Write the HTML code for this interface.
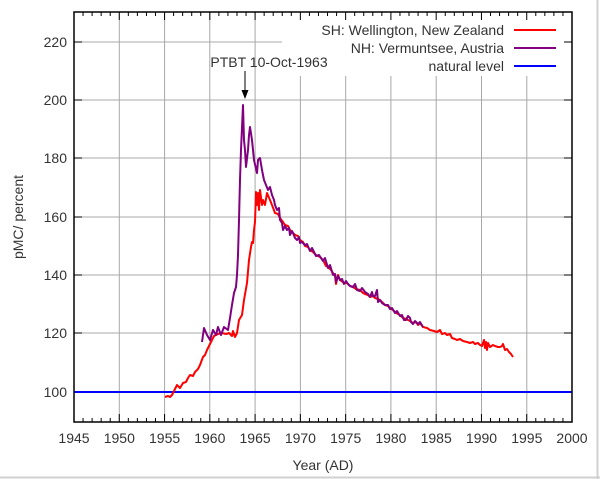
<!DOCTYPE html>
<html><head><meta charset="utf-8"><style>
html,body{margin:0;padding:0;background:#fff;}
svg{display:block;font-family:"Liberation Sans",sans-serif;}
</style></head><body>
<svg width="600" height="479" viewBox="0 0 600 479" xmlns="http://www.w3.org/2000/svg">
<rect x="0" y="0" width="600" height="479" fill="#fff"/>
<line x1="597.5" y1="0" x2="597.5" y2="479" stroke="#d0d0d0" stroke-width="2"/>
<line x1="0" y1="477.5" x2="600" y2="477.5" stroke="#d0d0d0" stroke-width="2"/>
<g stroke="#a8a8a8" stroke-width="1">
<line x1="74" y1="42" x2="282" y2="42"/>
<line x1="74" y1="100" x2="572" y2="100"/>
<line x1="74" y1="158" x2="572" y2="158"/>
<line x1="74" y1="217" x2="572" y2="217"/>
<line x1="74" y1="275" x2="572" y2="275"/>
<line x1="74" y1="333" x2="572" y2="333"/>
<line x1="119.3" y1="12" x2="119.3" y2="422"/>
<line x1="164.6" y1="12" x2="164.6" y2="422"/>
<line x1="209.8" y1="12" x2="209.8" y2="422"/>
<line x1="255.1" y1="12" x2="255.1" y2="422"/>
<line x1="300.4" y1="76" x2="300.4" y2="422"/>
<line x1="345.7" y1="76" x2="345.7" y2="422"/>
<line x1="390.9" y1="76" x2="390.9" y2="422"/>
<line x1="436.2" y1="76" x2="436.2" y2="422"/>
<line x1="481.5" y1="76" x2="481.5" y2="422"/>
<line x1="526.8" y1="76" x2="526.8" y2="422"/>
</g>
<path stroke="#000" stroke-width="1" fill="none" d="
M74 422v-8M74 12v8 M83.05 422v-4M83.05 12v4 M92.11 422v-4M92.11 12v4 M101.16 422v-4M101.16 12v4 M110.22 422v-4M110.22 12v4
M119.27 422v-8M119.27 12v8 M128.33 422v-4M128.33 12v4 M137.38 422v-4M137.38 12v4 M146.44 422v-4M146.44 12v4 M155.49 422v-4M155.49 12v4
M164.55 422v-8M164.55 12v8 M173.6 422v-4M173.6 12v4 M182.65 422v-4M182.65 12v4 M191.71 422v-4M191.71 12v4 M200.76 422v-4M200.76 12v4
M209.82 422v-8M209.82 12v8 M218.87 422v-4M218.87 12v4 M227.93 422v-4M227.93 12v4 M236.98 422v-4M236.98 12v4 M246.04 422v-4M246.04 12v4
M255.09 422v-8M255.09 12v8 M264.15 422v-4M264.15 12v4 M273.2 422v-4M273.2 12v4 M282.25 422v-4M282.25 12v4 M291.31 422v-4M291.31 12v4
M300.36 422v-8M300.36 12v8 M309.42 422v-4M309.42 12v4 M318.47 422v-4M318.47 12v4 M327.53 422v-4M327.53 12v4 M336.58 422v-4M336.58 12v4
M345.64 422v-8M345.64 12v8 M354.69 422v-4M354.69 12v4 M363.74 422v-4M363.74 12v4 M372.8 422v-4M372.8 12v4 M381.85 422v-4M381.85 12v4
M390.91 422v-8M390.91 12v8 M399.96 422v-4M399.96 12v4 M409.02 422v-4M409.02 12v4 M418.07 422v-4M418.07 12v4 M427.13 422v-4M427.13 12v4
M436.18 422v-8M436.18 12v8 M445.24 422v-4M445.24 12v4 M454.29 422v-4M454.29 12v4 M463.34 422v-4M463.34 12v4 M472.4 422v-4M472.4 12v4
M481.45 422v-8M481.45 12v8 M490.51 422v-4M490.51 12v4 M499.56 422v-4M499.56 12v4 M508.62 422v-4M508.62 12v4 M517.67 422v-4M517.67 12v4
M526.73 422v-8M526.73 12v8 M535.78 422v-4M535.78 12v4 M544.84 422v-4M544.84 12v4 M553.89 422v-4M553.89 12v4 M562.94 422v-4M562.94 12v4
M572 422v-8M572 12v8
M74 42h8M564 42h8 M74 100h8M564 100h8 M74 158h8M564 158h8 M74 217h8M564 217h8 M74 275h8M564 275h8 M74 333h8M564 333h8 M74 392h8M564 392h8"/>
<line x1="74" y1="392" x2="572" y2="392" stroke="#0000ff" stroke-width="2"/>
<polyline fill="none" stroke="#ff0000" stroke-width="2" stroke-linejoin="round" points="165,397 168,396 170,397 172,395 175,389 177,385 180,388 183,383 186,382 188,378 190,375 193,376 195,372 198,369 200,365 203,357 205,355 207,350 211,342 214,336 218,334 222,333 226,334 229,333 232,336 233,331 235,337 237,333 239,320 242,315 244,300 247,283 249,260 251,247 252,242 253,243 254,230 255,222 256,192 257,205 258,193 259,210 260,190 262,205 263,200 265,205 267,193 270,200 272,205 275,213 278,214 280,218 283,222 285,225 288,226 290,230 293,233 295,235 298,236 300,240 303,242 305,246 308,247 310,250 313,252 316,255 320,257 323,260 326,266 328,267 331,270 333,273 335,276 336,284 338,275 340,280 344,283 347,283 350,286 353,287 356,289 360,290 363,293 365,294 368,295 370,297 373,296 375,298 378,299 380,300 383,303 385,305 388,306 390,308 393,310 395,312 398,314 400,315 403,318 406,319 410,321 413,323 416,322 418,325 420,323 423,327 427,328 430,330 434,331 437,332 440,330 442,334 445,333 447,335 450,334 452,338 455,339 457,340 460,339 463,341 467,342 470,343 473,342 475,344 478,343 480,345 482,346 484,340 485,348 486,342 487,350 488,343 490,347 493,345 495,346 498,347 500,347 502,346 503,344 505,350 507,349 509,352 511,354 513,357"/>
<polyline fill="none" stroke="#800080" stroke-width="2" stroke-linejoin="round" points="202,342 204,328 207,335 210,340 213,330 216,335 218,327 221,335 224,327 228,330 230,318 232,305 234,293 236,287 237,275 238,255 239,220 240,180 241,150 243,105 244,140 245,150 246,167 248,150 249,135 250,127 252,140 254,160 257,173 258,160 260,158 262,170 264,180 266,185 268,190 270,187 272,195 274,200 275,205 277,210 279,208 280,220 282,223 283,230 285,226 287,230 289,228 290,235 292,231 293,233 295,238 297,240 299,237 300,243 302,242 305,245 307,244 310,251 312,248 316,256 319,255 323,261 325,258 328,268 330,265 333,275 335,274 336,282 338,276 340,280 342,279 344,284 346,281 348,284 350,286 353,287 355,284 357,290 360,291 362,288 365,292 368,294 370,297 372,292 373,296 375,296 377,290 378,302 380,300 382,303 385,305 388,305 390,309 392,308 395,313 397,311 400,316 402,315 404,320 406,320 408,316 410,318 411,322 413,324 415,321 418,324 420,322 423,327"/>
<rect x="74" y="12" width="498" height="410" fill="none" stroke="#000" stroke-width="1.5"/>
<g font-size="14" fill="#333" text-anchor="end">
<text x="67" y="47">220</text><text x="67" y="105">200</text><text x="67" y="163">180</text>
<text x="67" y="222">160</text><text x="67" y="280">140</text><text x="67" y="338">120</text><text x="67" y="397">100</text>
</g>
<g font-size="14" fill="#333" text-anchor="middle">
<text x="74" y="443">1945</text><text x="119.3" y="443">1950</text><text x="164.6" y="443">1955</text>
<text x="209.8" y="443">1960</text><text x="255.1" y="443">1965</text><text x="300.4" y="443">1970</text>
<text x="345.7" y="443">1975</text><text x="390.9" y="443">1980</text><text x="436.2" y="443">1985</text>
<text x="481.5" y="443">1990</text><text x="526.8" y="443">1995</text><text x="572" y="443">2000</text>
<text x="323" y="470">Year (AD)</text>
<text x="269" y="67">PTBT 10-Oct-1963</text>
</g>
<text transform="translate(23,217) rotate(-90)" font-size="14" fill="#333" text-anchor="middle">pMC/ percent</text>
<line x1="245" y1="71" x2="245" y2="96" stroke="#000" stroke-width="1"/>
<polygon points="241.5,90 248.5,90 245,99" fill="#000"/>
<g font-size="14" fill="#333" text-anchor="end">
<text x="504" y="35">SH: Wellington, New Zealand</text>
<text x="504" y="53">NH: Vermuntsee, Austria</text>
<text x="504" y="71">natural level</text>
</g>
<line x1="514" y1="30" x2="556" y2="30" stroke="#ff0000" stroke-width="2"/>
<line x1="514" y1="48" x2="556" y2="48" stroke="#800080" stroke-width="2"/>
<line x1="514" y1="66" x2="556" y2="66" stroke="#0000ff" stroke-width="2"/>
</svg>
</body></html>
